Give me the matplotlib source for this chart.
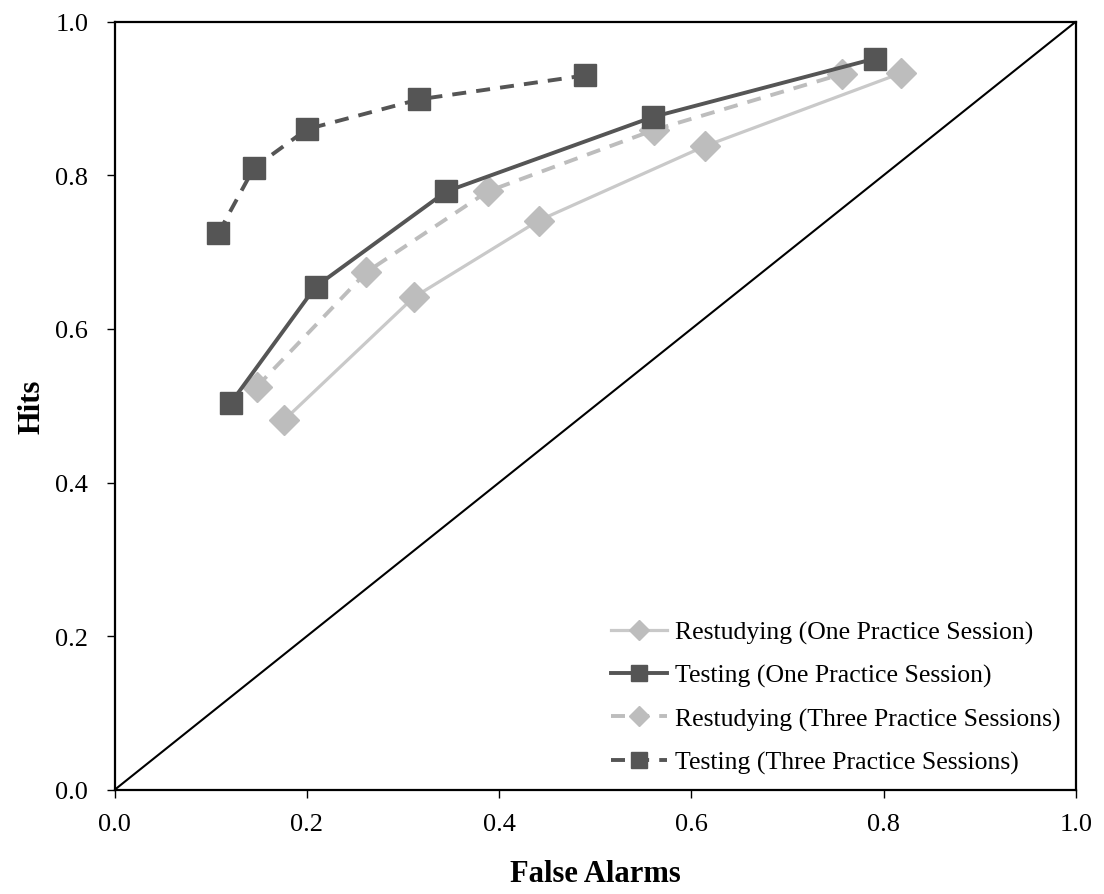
import matplotlib.pyplot as plt

plt.rcParams['font.family'] = ['Liberation Serif', 'DejaVu Serif']

# ROC points (false alarms, hits)
rest_one_fa = [0.176, 0.311, 0.441, 0.614, 0.818]
rest_one_hits = [0.481, 0.641, 0.741, 0.838, 0.933]

test_one_fa = [0.121, 0.209, 0.345, 0.560, 0.791]
test_one_hits = [0.504, 0.655, 0.779, 0.876, 0.952]

rest_three_fa = [0.148, 0.262, 0.388, 0.561, 0.757]
rest_three_hits = [0.525, 0.674, 0.779, 0.859, 0.932]

test_three_fa = [0.108, 0.145, 0.200, 0.317, 0.489]
test_three_hits = [0.725, 0.810, 0.860, 0.899, 0.930]

labels = ['Restudying (One Practice Session)',
          'Testing (One Practice Session)',
          'Restudying (Three Practice Sessions)',
          'Testing (Three Practice Sessions)']

ticks = [0.0, 0.2, 0.4, 0.6, 0.8, 1.0]

fig = plt.figure(figsize=(11.04, 8.95), dpi=100)
ax = fig.add_axes([0.1039, 0.1165, 0.8705, 0.8581])

# chance line
ax.plot([0, 1], [0, 1], color='black', lw=1.5, zorder=1)

light = '#c9c9c9'
light_mk = '#bdbdbd'
dark = '#555555'
dash = (3.6, 2.6)

ax.plot(rest_one_fa, rest_one_hits, '-', color=light, lw=2.3,
        marker='D', ms=15, mfc=light_mk, mec=light_mk, label=labels[0], zorder=2)
ax.plot(test_one_fa, test_one_hits, '-', color=dark, lw=2.8,
        marker='s', ms=16, mfc=dark, mec=dark, label=labels[1], zorder=4)
ax.plot(rest_three_fa, rest_three_hits, '--', color=light_mk, lw=2.8, dashes=dash,
        marker='D', ms=15, mfc=light_mk, mec=light_mk, label=labels[2], zorder=3)
ax.plot(test_three_fa, test_three_hits, '--', color=dark, lw=2.8, dashes=dash,
        marker='s', ms=16, mfc=dark, mec=dark, label=labels[3], zorder=4)

ax.set_xlim(0, 1)
ax.set_ylim(0, 1)
ax.set_xticks(ticks)
ax.set_yticks(ticks)
ax.set_xticklabels(['%.1f' % t for t in ticks])
ax.set_yticklabels(['%.1f' % t for t in ticks])
ax.tick_params(direction='out', length=6, width=1, labelsize=19, colors='black')
ax.tick_params(axis='x', pad=11)
ax.tick_params(axis='y', pad=13)
for s in ax.spines.values():
    s.set_linewidth(1.6)

ax.set_xlabel('False Alarms', fontsize=22, fontweight='bold', labelpad=17)
ax.set_ylabel('Hits', fontsize=22, fontweight='bold', labelpad=6)

leg = ax.legend(loc='lower right', frameon=False, fontsize=18.5,
                handlelength=2.2, handletextpad=0.3, labelspacing=0.78,
                borderaxespad=0.2, markerscale=0.7)

fig.savefig('out.png', dpi=100)
